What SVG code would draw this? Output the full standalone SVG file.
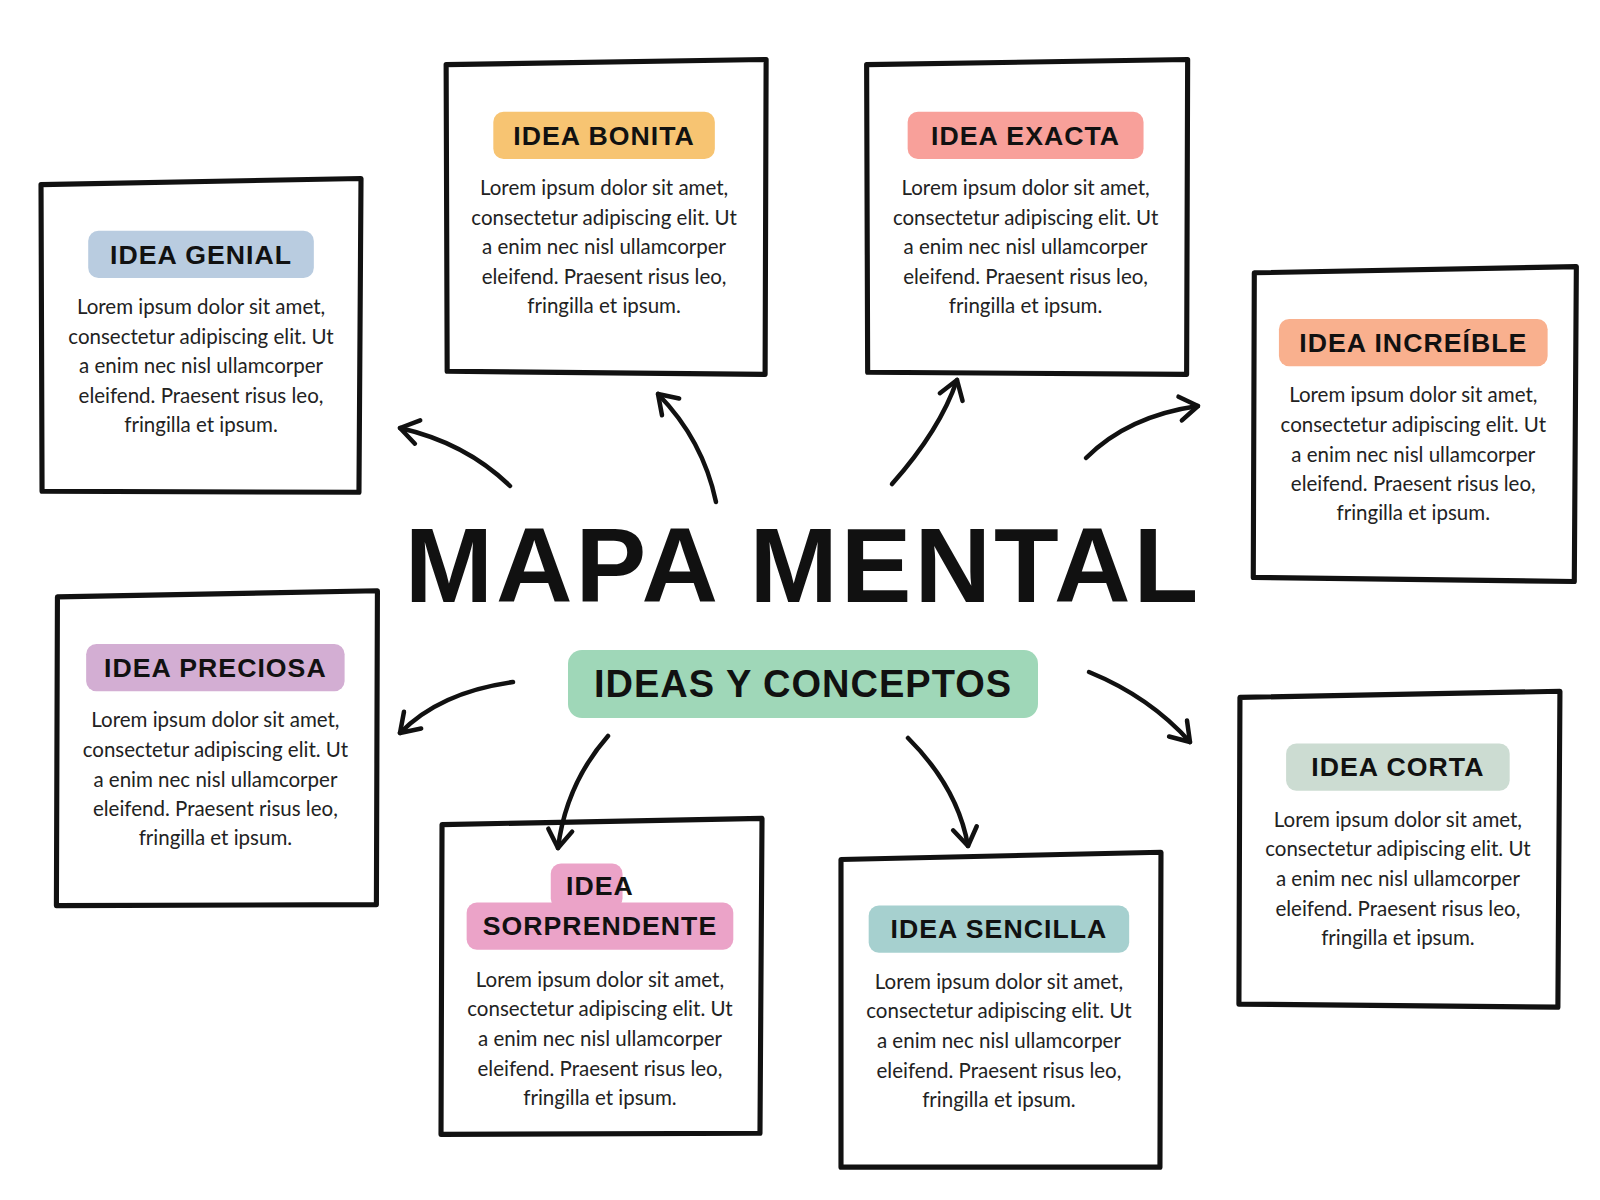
<svg xmlns="http://www.w3.org/2000/svg" width="1600" height="1200" viewBox="0 0 1600 1200">
<style>
.box{fill:#fff;stroke:#111;stroke-width:5;stroke-linejoin:round}
.lab{font-family:"Liberation Sans",sans-serif;font-weight:bold;font-size:26px;fill:#111;text-anchor:middle;letter-spacing:1px}
.body{font-family:Lato,"Open Sans",sans-serif;font-size:20px;fill:#222;text-anchor:middle}
.arr{fill:none;stroke:#111;stroke-width:4.5;stroke-linecap:round}
</style>
<defs>
<marker id="ah" viewBox="0 0 30 30" refX="24" refY="15" markerWidth="30" markerHeight="30" orient="auto" markerUnits="userSpaceOnUse" overflow="visible">
<polyline points="6,3 24,15 6,27" fill="none" stroke="#111" stroke-width="4.5" stroke-linecap="round" stroke-linejoin="round"/>
</marker>
</defs>
<rect width="1600" height="1200" fill="#fff"/>

<g id="genial" transform="scale(1.0256)">
<path class="box" d="M40,180 L352,174 L350,480 L41,479 Z"/>
<rect x="86" y="225" width="220" height="46" rx="10" fill="#b9cce0"/>
<text class="lab" x="196" y="257">IDEA GENIAL</text>
<text class="body" x="196" y="306">Lorem ipsum dolor sit amet,</text>
<text class="body" x="196" y="335">consectetur adipiscing elit. Ut</text>
<text class="body" x="196" y="364">a enim nec nisl ullamcorper</text>
<text class="body" x="196" y="393">eleifend. Praesent risus leo,</text>
<text class="body" x="196" y="421">fringilla et ipsum.</text>
</g>
<g id="bonita" transform="scale(1.0256)">
<path class="box" d="M435,63 L747,58 L746,365 L436,362 Z"/>
<rect x="481" y="109" width="216" height="46" rx="10" fill="#f7c472"/>
<text class="lab" x="589" y="141">IDEA BONITA</text>
<text class="body" x="589" y="190">Lorem ipsum dolor sit amet,</text>
<text class="body" x="589" y="219">consectetur adipiscing elit. Ut</text>
<text class="body" x="589" y="248">a enim nec nisl ullamcorper</text>
<text class="body" x="589" y="277">eleifend. Praesent risus leo,</text>
<text class="body" x="589" y="305">fringilla et ipsum.</text>
</g>
<g id="exacta" transform="scale(1.0256)">
<path class="box" d="M845,63 L1158,58 L1157,365 L846,363 Z"/>
<rect x="885" y="109" width="230" height="46" rx="10" fill="#f8a09a"/>
<text class="lab" x="1000" y="141">IDEA EXACTA</text>
<text class="body" x="1000" y="190">Lorem ipsum dolor sit amet,</text>
<text class="body" x="1000" y="219">consectetur adipiscing elit. Ut</text>
<text class="body" x="1000" y="248">a enim nec nisl ullamcorper</text>
<text class="body" x="1000" y="277">eleifend. Praesent risus leo,</text>
<text class="body" x="1000" y="305">fringilla et ipsum.</text>
</g>
<g id="increible" transform="scale(1.0256)">
<path class="box" d="M1223,266 L1537,260 L1535,567 L1222,563 Z"/>
<rect x="1247" y="311" width="262" height="46" rx="10" fill="#f9b08e"/>
<text class="lab" x="1378" y="343">IDEA INCREÍBLE</text>
<text class="body" x="1378" y="392">Lorem ipsum dolor sit amet,</text>
<text class="body" x="1378" y="421">consectetur adipiscing elit. Ut</text>
<text class="body" x="1378" y="450">a enim nec nisl ullamcorper</text>
<text class="body" x="1378" y="479">eleifend. Praesent risus leo,</text>
<text class="body" x="1378" y="507">fringilla et ipsum.</text>
</g>
<g id="preciosa" transform="scale(1.0256)">
<path class="box" d="M56,582 L368,576 L367,882 L55,883 Z"/>
<rect x="84" y="628" width="252" height="46" rx="10" fill="#d3aed3"/>
<text class="lab" x="210" y="660">IDEA PRECIOSA</text>
<text class="body" x="210" y="709">Lorem ipsum dolor sit amet,</text>
<text class="body" x="210" y="738">consectetur adipiscing elit. Ut</text>
<text class="body" x="210" y="767">a enim nec nisl ullamcorper</text>
<text class="body" x="210" y="796">eleifend. Praesent risus leo,</text>
<text class="body" x="210" y="824">fringilla et ipsum.</text>
</g>
<g id="sorprendente" transform="scale(1.0256)">
<path class="box" d="M431,804 L743,798 L741,1105 L430,1106 Z"/>
<rect x="537" y="842" width="70" height="44" rx="10" fill="#eba3c8"/>
<rect x="455" y="880" width="260" height="46" rx="10" fill="#eba3c8"/>
<text class="lab" x="585" y="873">IDEA</text>
<text class="lab" x="585" y="912">SORPRENDENTE</text>
<text class="body" x="585" y="962">Lorem ipsum dolor sit amet,</text>
<text class="body" x="585" y="991">consectetur adipiscing elit. Ut</text>
<text class="body" x="585" y="1020">a enim nec nisl ullamcorper</text>
<text class="body" x="585" y="1049">eleifend. Praesent risus leo,</text>
<text class="body" x="585" y="1077">fringilla et ipsum.</text>
</g>
<g id="sencilla" transform="scale(1.0256)">
<path class="box" d="M820,838 L1132,831 L1131,1138 L820,1138 Z"/>
<rect x="847" y="883" width="254" height="46" rx="10" fill="#a6d0cf"/>
<text class="lab" x="974" y="915">IDEA SENCILLA</text>
<text class="body" x="974" y="964">Lorem ipsum dolor sit amet,</text>
<text class="body" x="974" y="993">consectetur adipiscing elit. Ut</text>
<text class="body" x="974" y="1022">a enim nec nisl ullamcorper</text>
<text class="body" x="974" y="1051">eleifend. Praesent risus leo,</text>
<text class="body" x="974" y="1079">fringilla et ipsum.</text>
</g>
<g id="corta" transform="scale(1.0256)">
<path class="box" d="M1209,680 L1521,674 L1519,982 L1208,979 Z"/>
<rect x="1254" y="725" width="218" height="46" rx="10" fill="#ccdcd2"/>
<text class="lab" x="1363" y="757">IDEA CORTA</text>
<text class="body" x="1363" y="806">Lorem ipsum dolor sit amet,</text>
<text class="body" x="1363" y="835">consectetur adipiscing elit. Ut</text>
<text class="body" x="1363" y="864">a enim nec nisl ullamcorper</text>
<text class="body" x="1363" y="893">eleifend. Praesent risus leo,</text>
<text class="body" x="1363" y="921">fringilla et ipsum.</text>
</g>

<g id="center">
<text x="803" y="602" font-family="'Liberation Sans',sans-serif" font-weight="bold" font-size="106" text-anchor="middle" fill="#111" letter-spacing="3">MAPA MENTAL</text>
<rect x="568" y="650" width="470" height="68" rx="14" fill="#9fd7b8"/>
<text x="803" y="697" font-family="'Liberation Sans',sans-serif" font-weight="bold" font-size="38" text-anchor="middle" fill="#111" letter-spacing="1">IDEAS Y CONCEPTOS</text>
</g>

<g id="connectors">
<path class="arr" marker-end="url(#ah)" d="M510,486 Q466,443 400,428"/>
<path class="arr" marker-end="url(#ah)" d="M716,502 Q703,440 658,394"/>
<path class="arr" marker-end="url(#ah)" d="M892,484 Q940,430 957,380"/>
<path class="arr" marker-end="url(#ah)" d="M1086,458 Q1128,416 1198,406"/>
<path class="arr" marker-end="url(#ah)" d="M513,682 Q440,692 400,733"/>
<path class="arr" marker-end="url(#ah)" d="M608,736 Q566,784 558,848"/>
<path class="arr" marker-end="url(#ah)" d="M908,738 Q958,788 968,846"/>
<path class="arr" marker-end="url(#ah)" d="M1089,672 Q1150,697 1190,742"/>
</g>
</svg>
